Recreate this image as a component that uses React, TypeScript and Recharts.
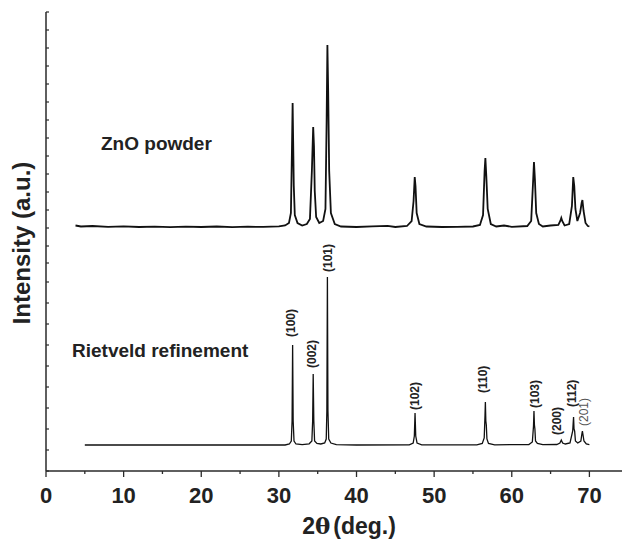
import { LineChart, Line, XAxis, YAxis, ReferenceDot } from 'recharts'

// 2θ (deg.) vs intensity (a.u.), intensity in arbitrary units with 0 at the x axis
const POWDER: [number, number][] = [
  [3.8, 245.5], [4.5, 244.5], [6, 245], [8, 244.2], [10, 244.6], [12, 244], [14, 244.4],
  [16, 243.8], [18, 244.3], [20, 244], [22, 244.5], [24, 243.9], [26, 244.3], [28, 244.1],
  [30, 244.6], [30.8, 245.5], [31.3, 248], [31.55, 258], [31.68, 320], [31.77, 368],
  [31.84, 330], [31.92, 285], [32.05, 256], [32.4, 248], [33.0, 245.5], [33.6, 247],
  [34.0, 252], [34.25, 300], [34.42, 344], [34.52, 325], [34.62, 280], [34.8, 254],
  [35.2, 248], [35.7, 250], [36.0, 262], [36.15, 350], [36.25, 426], [36.35, 380],
  [36.48, 300], [36.7, 258], [37.2, 247], [38, 244.5], [40, 244], [42, 244.6], [44, 245.2],
  [45, 244], [46.5, 245], [47.1, 250], [47.35, 270], [47.5, 294], [47.6, 285], [47.75, 258],
  [48.1, 247], [49, 244.5], [51, 244], [53, 244.2], [55, 244.5], [55.9, 246], [56.3, 256],
  [56.5, 300], [56.6, 313], [56.72, 295], [56.9, 262], [57.3, 247], [58, 244.5], [59, 245.5],
  [60, 244.2], [62, 245], [62.5, 250], [62.75, 290], [62.86, 309], [62.98, 292], [63.15, 258],
  [63.5, 247], [64, 244.5], [65, 245.5], [66, 246], [66.25, 250], [66.38, 253], [66.5, 250],
  [66.8, 245.5], [67.4, 247], [67.75, 265], [67.92, 294], [68.05, 285], [68.2, 262],
  [68.45, 250], [68.8, 258], [69.0, 268], [69.1, 271], [69.25, 260], [69.5, 248], [69.8, 245],
  [70, 244.5],
]

const RIETVELD: [number, number][] = [
  [5, 26], [30.8, 26], [31.35, 27], [31.6, 30], [31.7, 50], [31.77, 126], [31.84, 50],
  [31.95, 30], [32.2, 27], [33.0, 26.3], [33.9, 27.2], [34.25, 30], [34.35, 50], [34.42, 97],
  [34.5, 50], [34.6, 30], [34.9, 27.5], [35.4, 27], [35.9, 28], [36.1, 32], [36.18, 60],
  [36.25, 194], [36.32, 60], [36.42, 32], [36.7, 28], [37.4, 26.3], [40, 26], [46.8, 26.2],
  [47.3, 28], [47.45, 35], [47.54, 58], [47.63, 35], [47.8, 28], [48.4, 26.2], [55.5, 26.2],
  [56.2, 27.5], [56.45, 33], [56.55, 55], [56.6, 69], [56.66, 50], [56.72, 46], [56.8, 32],
  [57.0, 27.5], [57.8, 26.2], [62.2, 26.5], [62.65, 29], [62.8, 45], [62.86, 60], [62.92, 46],
  [62.98, 42], [63.06, 30], [63.3, 27.5], [64, 26.3], [65.8, 26.5], [66.2, 28], [66.38, 31],
  [66.55, 28], [66.9, 27], [67.5, 28], [67.85, 40], [67.96, 54], [68.02, 42], [68.1, 40],
  [68.2, 30], [68.5, 28], [68.9, 30], [69.05, 38], [69.1, 40], [69.18, 36], [69.3, 30],
  [69.6, 27], [70, 26.3],
]

const HKL = ['(100)', '(002)', '(101)', '(102)', '(110)', '(103)', '(200)', '(112)', '(201)']
const HKL_THETA = [31.6, 34.3, 36.3, 47.5, 56.3, 63.0, 65.8, 67.7, 69.3]
const HKL_BASE = [134, 103, 199, 61, 78, 63, 36, 64, 45]

const X_TICKS = [0, 5, 10, 15, 20, 25, 30, 35, 40, 45, 50, 55, 60, 65, 70]
const Y_TICKS = [0, 21, 42, 63, 84, 105, 126, 147, 168, 189, 208, 225, 243, 261, 279, 297, 315,
  333, 351, 369, 387, 405, 423, 441, 459]

const powderData = POWDER.map(([theta, i]) => ({ theta, i }))
const rietveldData = RIETVELD.map(([theta, i]) => ({ theta, i }))

const FONT = '"Liberation Sans", Arial, sans-serif'
const AXIS = '#2a2a2a'

function XTick(props: any) {
  const { x, y, payload } = props
  const major = payload.value % 10 === 0
  return (
    <g>
      <line x1={x} x2={x} y1={y} y2={y + (major ? 6 : 3)} stroke={AXIS} strokeWidth={1.3} />
      {major && (
        <text x={x} y={y + 32} textAnchor="middle" fontFamily={FONT} fontWeight="bold" fontSize={22} fill="#222">
          {payload.value}
        </text>
      )}
    </g>
  )
}

function YTick(props: any) {
  const { x, y } = props
  return <line x1={x} x2={x + 3} y1={y} y2={y} stroke={AXIS} strokeWidth={1.2} />
}

function hklLabel(text: string, light: boolean) {
  return (p: any) => {
    const x = p.cx + 4
    return (
      <text
        x={x}
        y={p.cy}
        transform={`rotate(-90, ${x}, ${p.cy})`}
        textAnchor="start"
        fontFamily={FONT}
        fontWeight={light ? 'normal' : 'bold'}
        fontSize={12}
        fill={light ? '#555' : '#222'}
      >
        {text}
      </text>
    )
  }
}

export default function App() {
  return (
    <div style={{ position: 'absolute', left: 0, top: 0, width: 622, height: 540, background: '#fff' }}>
      <LineChart width={622} height={540} margin={{ top: 12, right: 0, bottom: 0, left: 0 }}>
        <XAxis
          dataKey="theta"
          type="number"
          domain={[0, 74.2]}
          allowDataOverflow
          ticks={X_TICKS}
          interval={0}
          tickLine={false}
          tickSize={0}
          tickMargin={0}
          tick={XTick}
          height={69}
          axisLine={{ stroke: AXIS, strokeWidth: 1.5 }}
        />
        <YAxis
          type="number"
          domain={[0, 459]}
          allowDataOverflow
          ticks={Y_TICKS}
          interval={0}
          tickLine={false}
          tickSize={0}
          tickMargin={0}
          tick={YTick}
          width={46}
          axisLine={{ stroke: AXIS, strokeWidth: 1.5 }}
        />
        <Line data={powderData} dataKey="i" type="linear" stroke="#111" strokeWidth={1.8} dot={false} isAnimationActive={false} />
        <Line data={rietveldData} dataKey="i" type="linear" stroke="#111" strokeWidth={1.3} dot={false} isAnimationActive={false} />
        {HKL.map((h, k) => (
          <ReferenceDot
            key={h}
            x={HKL_THETA[k]}
            y={HKL_BASE[k]}
            r={0}
            ifOverflow="visible"
            shape={hklLabel(h, h === '(201)')}
          />
        ))}
      </LineChart>
      <svg width={622} height={540} style={{ position: 'absolute', left: 0, top: 0, pointerEvents: 'none' }}>
        <g fontFamily={FONT} fontWeight="bold" fill="#222">
          <text x={101} y={150} fontSize={19}>ZnO powder</text>
          <text x={72} y={357} fontSize={19}>Rietveld refinement</text>
          <text transform="translate(30,243) rotate(-90)" textAnchor="middle" fontSize={24}>Intensity (a.u.)</text>
          <text x={349} y={534} textAnchor="middle" fontSize={23}>
            2<tspan fontFamily='"DejaVu Serif", serif' fontWeight="bold">θ</tspan>
            <tspan dx={3}>(deg.)</tspan>
          </text>
        </g>
      </svg>
    </div>
  )
}
